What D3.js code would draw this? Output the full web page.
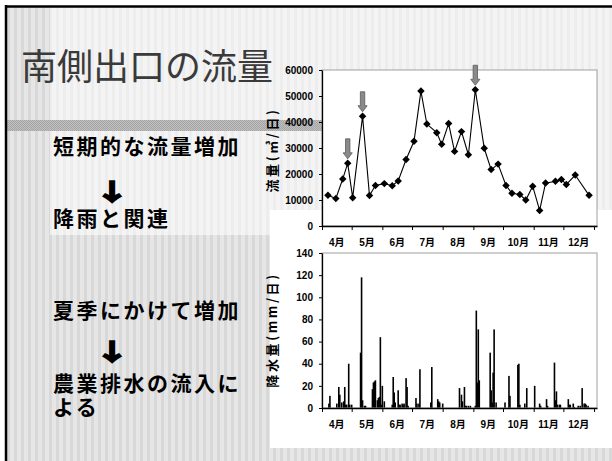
<!DOCTYPE html>
<html>
<head>
<meta charset="utf-8">
<script src="https://cdn.jsdelivr.net/npm/d3@7"></script>
<style>
  body { margin: 0; background: #fff; }
  svg { display: block; }
</style>
</head>
<body>
<div id="slide"></div>
<script>
// flow at the south outlet (m3/day), roughly weekly samples
const flowDates = ["4/7", "4/15", "4/22", "4/27", "5/2", "5/12", "5/19", "5/25", "6/3", "6/11",
  "6/17", "6/25", "7/3", "7/10", "7/16", "7/26", "7/31", "8/7", "8/13", "8/20", "8/27", "9/3",
  "9/12", "9/19", "9/26", "10/4", "10/10", "10/18", "10/24", "10/31", "11/7", "11/13", "11/23",
  "11/29", "12/4", "12/13", "12/27"];
const flowValues = [11800, 10600, 18100, 24100, 10900, 42200, 11700, 15600, 16300, 15500,
  17300, 25600, 32600, 51900, 39200, 35900, 31400, 39400, 28700, 36300, 27400, 52400,
  29900, 21700, 23800, 15600, 12600, 12100, 10000, 15300, 6000, 16500, 17200,
  17900, 16000, 19600, 11800];
// peaks marked with grey arrows
const arrowDates = ["4/27", "5/12", "9/3"];

// daily precipitation (mm/day), only rainy days
const rainDates = ["4/8", "4/9", "4/16", "4/18", "4/19", "4/21", "4/23", "4/24", "4/25", "4/26", "4/28", "4/29",
  "5/1", "5/10", "5/11", "5/12", "5/14", "5/15", "5/22", "5/23", "5/24", "5/25", "5/27", "5/28", "5/29", "5/30", "5/31",
  "6/1", "6/3", "6/11", "6/12", "6/13", "6/14", "6/17", "6/18", "6/19", "6/21", "6/22", "6/23", "6/25", "6/26", "6/27",
  "7/5", "7/6", "7/8", "7/9", "7/20", "7/21", "7/27", "7/28", "7/29",
  "8/1", "8/18", "8/20", "8/21", "8/23", "8/24", "8/25", "8/27", "8/29",
  "9/3", "9/4", "9/5", "9/6", "9/7", "9/18", "9/19", "9/20", "9/21", "9/22", "9/24",
  "10/3", "10/7", "10/8", "10/16", "10/17", "10/18", "10/23", "10/25",
  "11/2", "11/7", "11/8", "11/14", "11/15", "11/22", "11/23", "11/24", "11/25", "11/27", "11/28",
  "12/6", "12/7", "12/8", "12/11", "12/12", "12/16", "12/18", "12/20", "12/22", "12/23", "12/24", "12/26"];
const rainValues = [4, 11, 4, 19, 12, 5, 6, 19, 3, 3, 40, 3,
  3, 50, 118, 7, 2, 2, 17, 23, 24, 25, 7, 9, 10, 64, 3,
  20, 6, 3, 28, 14, 5, 16, 3, 3, 4, 3, 4, 27, 19, 2,
  9, 4, 4, 35, 5, 37, 8, 6, 5,
  4, 18, 12, 6, 19, 2, 2, 2, 2,
  2, 88, 23, 71, 25, 50, 16, 5, 32, 71, 5,
  5, 29, 11, 39, 40, 3, 4, 18,
  20, 4, 2, 8, 2, 41, 7, 15, 3, 3, 3,
  8, 3, 3, 4, 1, 2, 2, 18, 4, 4, 3, 2];

const monthLabels = ["4月", "5月", "6月", "7月", "8月", "9月", "10月", "11月", "12月"];
const flowTicks = [0, 10000, 20000, 30000, 40000, 50000, 60000];
const rainTicks = [0, 20, 40, 60, 80, 100, 120, 140];

const title = "南側出口の流量";
const flowTitle = "流量(㎥/日)";
const rainTitle = "降水量(mm/日)";
const noteLines = ["短期的な流量増加", "降雨と関連", "夏季にかけて増加", "農業排水の流入に", "よる"];
const noteArrow = "↓";

const width = 612, height = 461;
const parseDay = d3.timeParse("%Y/%m/%d");
const toDate = s => parseDay("2001/" + s);

const svg = d3.select("#slide")
  .append("svg")
  .attr("width", width)
  .attr("height", height);

// ---- slide background ----
const defs = svg.append("defs");
const stripes = defs.append("pattern")
  .attr("id", "stripes")
  .attr("patternUnits", "userSpaceOnUse")
  .attr("width", 7).attr("height", 7);
stripes.append("rect").attr("width", 7).attr("height", 7).attr("fill", "#e6e6e6");
stripes.append("rect").attr("width", 3).attr("height", 7).attr("fill", "#d8d8d8");

const checker = defs.append("pattern")
  .attr("id", "checker")
  .attr("patternUnits", "userSpaceOnUse")
  .attr("width", 2).attr("height", 2);
checker.append("rect").attr("width", 2).attr("height", 2).attr("fill", "#c0c0c0");
checker.append("rect").attr("width", 1).attr("height", 1).attr("fill", "#a4a4a4");
checker.append("rect").attr("x", 1).attr("y", 1).attr("width", 1).attr("height", 1).attr("fill", "#a4a4a4");

svg.append("rect").attr("x", 6).attr("y", 7).attr("width", width - 6).attr("height", height - 7)
  .attr("fill", "url(#stripes)");

// lighter areas behind title and text
const light = [[50, 7, 562, 113], [50, 131, 272, 104], [597, 120, 15, 90]];
svg.selectAll(".light")
  .data(light)
  .join("rect")
  .attr("class", "light")
  .attr("x", d => d[0]).attr("y", d => d[1])
  .attr("width", d => d[2]).attr("height", d => d[3])
  .attr("fill", "#fff").attr("opacity", 0.55);

// grey band under the title
svg.append("rect").attr("x", 6).attr("y", 120).attr("width", 316).attr("height", 11)
  .attr("fill", "url(#checker)");

// white chart panels
svg.append("rect").attr("x", 322).attr("y", 70).attr("width", 275).attr("height", 150).attr("fill", "#fff");
svg.append("rect").attr("x", 270).attr("y", 210).attr("width", 342).attr("height", 238).attr("fill", "#fff");

// slide frame
svg.append("line").attr("x1", 6).attr("x2", 6).attr("y1", 5).attr("y2", height)
  .attr("stroke", "#000").attr("stroke-width", 2.5);
svg.append("line").attr("x1", 5).attr("x2", width).attr("y1", 6.5).attr("y2", 6.5)
  .attr("stroke", "#000").attr("stroke-width", 2.5);

// ---- slide texts ----
svg.append("text")
  .attr("x", 21).attr("y", 80)
  .style("font-family", "'Noto Sans CJK JP', sans-serif")
  .style("font-size", "36px")
  .attr("fill", "#3a3a3a")
  .text(title);

const noteY = [154, 226, 318, 391, 415];
svg.selectAll(".note")
  .data(noteLines)
  .join("text")
  .attr("class", "note")
  .attr("x", 53)
  .attr("y", (d, i) => noteY[i])
  .style("font-family", "'Liberation Sans', 'Noto Sans CJK JP', sans-serif")
  .style("font-weight", "bold")
  .style("font-size", "21px")
  .style("letter-spacing", "2.5px")
  .text(d => d);

// thick down arrows between the notes
svg.selectAll(".arrowtxt")
  .data([200, 360])
  .join("text")
  .attr("class", "arrowtxt")
  .attr("transform", d => `translate(112,${d}) scale(1.55,1)`)
  .attr("text-anchor", "middle")
  .style("font-family", "'Noto Sans CJK JP', sans-serif")
  .style("font-weight", "bold")
  .style("font-size", "23px")
  .attr("stroke", "#000")
  .attr("stroke-width", 1.6)
  .text(noteArrow);

// ---- shared time axis ----
const start = new Date(2001, 3, 1), end = new Date(2002, 0, 4);
const x = d3.scaleTime().domain([start, end]).range([322, 597]);
const monthStarts = d3.timeMonth.range(start, new Date(2002, 0, 2));
const monthMids = monthStarts.slice(0, 9).map((m, i) => new Date((+m + +monthStarts[i + 1]) / 2));

const tickFont = "'Liberation Sans', 'Noto Sans CJK JP', sans-serif";

function drawAxes(y, ticks, fmt, bottom, top) {
  // plot frame
  svg.append("rect")
    .attr("x", 322).attr("y", top).attr("width", 275).attr("height", bottom - top)
    .attr("fill", "none").attr("stroke", "#a0a0a0").attr("stroke-width", 1);

  const gx = svg.append("g")
    .attr("transform", `translate(0,${bottom})`)
    .call(d3.axisBottom(x).tickValues(monthStarts).tickSize(4).tickSizeOuter(0).tickFormat(""));
  gx.select(".domain").attr("stroke-width", 1.3);

  svg.append("g")
    .selectAll("text")
    .data(monthMids)
    .join("text")
    .attr("x", d => x(d))
    .attr("y", bottom + 20)
    .attr("text-anchor", "middle")
    .style("font-family", tickFont)
    .style("font-weight", "bold")
    .style("font-size", "10px")
    .text((d, i) => monthLabels[i]);

  const gy = svg.append("g")
    .attr("transform", "translate(322,0)")
    .call(d3.axisLeft(y).tickValues(ticks).tickSize(3).tickSizeOuter(0).tickPadding(6).tickFormat(fmt));
  gy.select(".domain").attr("stroke-width", 1.3);
  gy.selectAll("text")
    .style("font-family", tickFont)
    .style("font-weight", "bold")
    .style("font-size", "10px")
    .attr("fill", "#000");
}

function yTitle(label, cy) {
  svg.append("text")
    .attr("transform", `translate(271,${cy}) rotate(-90)`)
    .attr("text-anchor", "middle")
    .attr("dominant-baseline", "central")
    .style("font-family", "'Noto Sans CJK JP', sans-serif")
    .style("font-weight", "bold")
    .style("font-size", "13px")
    .style("letter-spacing", "2.6px")
    .text(label);
}

// ---- flow chart ----
const yFlow = d3.scaleLinear().domain([0, 60000]).range([226, 70]);
drawAxes(yFlow, flowTicks, d3.format("d"), 226, 70);
yTitle(flowTitle, 150);

const flow = flowDates.map((d, i) => ({ date: toDate(d), value: flowValues[i] }));

svg.append("path")
  .datum(flow)
  .attr("fill", "none")
  .attr("stroke", "#000")
  .attr("stroke-width", 1.1)
  .attr("d", d3.line().x(d => x(d.date)).y(d => yFlow(d.value)));

svg.append("g")
  .selectAll("path")
  .data(flow)
  .join("path")
  .attr("transform", d => `translate(${x(d.date)},${yFlow(d.value)}) rotate(45)`)
  .attr("d", d3.symbol(d3.symbolSquare, 28))
  .attr("fill", "#000");

// grey arrows over the rain driven peaks
const arrows = flow.filter(d => arrowDates.includes(d3.timeFormat("%-m/%-d")(d.date)));
svg.append("g")
  .selectAll("path")
  .data(arrows)
  .join("path")
  .attr("transform", d => `translate(${x(d.date)},${yFlow(d.value) - 4.5})`)
  .attr("d", "M-2.2,-20 L2.2,-20 L2.2,-6 L4.6,-6 L0,0 L-4.6,-6 L-2.2,-6 Z")
  .attr("fill", "#8a8a8a")
  .attr("stroke", "#5a5a5a")
  .attr("stroke-width", 0.8);

// ---- rain chart ----
const yRain = d3.scaleLinear().domain([0, 140]).range([408, 253]);
const rain = rainDates.map((d, i) => ({ date: toDate(d), value: rainValues[i] }));

svg.append("g")
  .selectAll("rect")
  .data(rain)
  .join("rect")
  .attr("x", d => x(d.date) - 0.8)
  .attr("y", d => yRain(d.value))
  .attr("width", 1.6)
  .attr("height", d => 408 - yRain(d.value))
  .attr("fill", "#000");

drawAxes(yRain, rainTicks, d3.format("d"), 408, 253);
yTitle(rainTitle, 330);
</script>
</body>
</html>
